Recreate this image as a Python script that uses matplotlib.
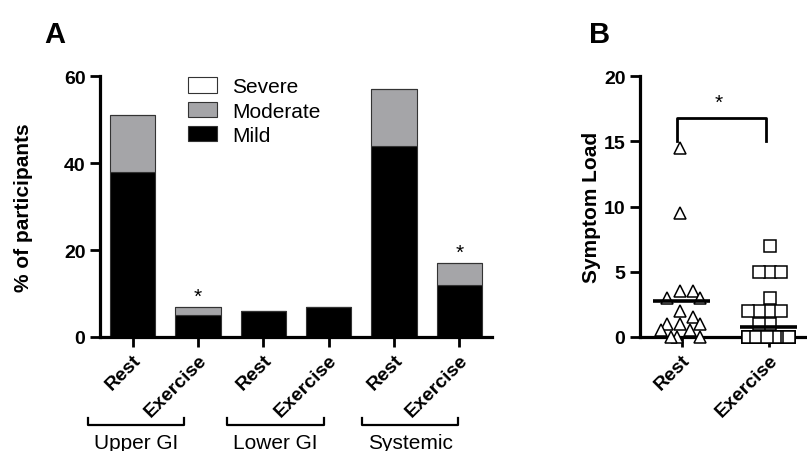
import numpy as np
import matplotlib
matplotlib.use('Agg')
import matplotlib.pyplot as plt
from matplotlib.patches import Patch
import matplotlib.transforms as mtransforms

plt.rcParams['font.family'] = ['Liberation Sans', 'DejaVu Sans']

# Panel A: symptom severity by condition
bar_labels = ['Rest', 'Exercise', 'Rest', 'Exercise', 'Rest', 'Exercise']
mild = [38, 5, 6, 7, 44, 12]
moderate = [13, 2, 0, 0, 13, 5]
severe = [0, 0, 0, 0, 0, 0]
starred = [1, 5]
groups = ['Upper GI', 'Lower GI', 'Systemic']

# Panel B: individual symptom load
rest_load = [14.5, 9.5, 3.5, 3.5, 3, 3, 2, 1.5, 1, 1, 1, 0.5, 0.5, 0, 0, 0]
exercise_load = [7, 5, 5, 5, 3, 2, 2, 2, 2, 1, 1,
                 0, 0, 0, 0, 0, 0, 0, 0, 0, 0, 0, 0, 0, 0, 0, 0, 0,
                 0, 0, 0, 0, 0, 0, 0, 0, 0, 0, 0, 0, 0, 0, 0, 0, 0]

W, H = 807, 452
fig = plt.figure(figsize=(W / 100, H / 100), dpi=100)

def px_axes(left, top, right, bottom):
    return fig.add_axes([left / W, 1 - bottom / H, (right - left) / W, (bottom - top) / H])

def style(ax):
    for s in ['top', 'right']:
        ax.spines[s].set_visible(False)
    for s in ['left', 'bottom']:
        ax.spines[s].set_linewidth(2.3)
    ax.tick_params(width=2.0, length=7, labelsize=14)
    for t in ax.get_yticklabels():
        t.set_fontweight('bold')

# ---------------- panel A ----------------
axA = px_axes(100, 77, 492, 338)
x = np.arange(len(mild))
bw = 0.69
axA.bar(x, mild, bw, color='black', edgecolor='#333333', linewidth=0.8, zorder=2)
axA.bar(x, moderate, bw, bottom=mild, color='#a5a5a8', edgecolor='#333333', linewidth=0.8, zorder=2)
tops = np.array(mild) + np.array(moderate)
axA.bar(x, severe, bw, bottom=tops, color='white', edgecolor='#333333', linewidth=0.8, zorder=2)
for i in starred:
    axA.text(x[i], tops[i] + 2.4, '*', ha='center', va='center', fontsize=15)

axA.set_xlim(-0.5, 5.5)
axA.set_ylim(0, 60)
axA.set_yticks([0, 20, 40, 60])
axA.set_xticks(x)
axA.set_xticklabels(bar_labels, rotation=45, ha='right', va='top',
                    rotation_mode='anchor', fontweight='bold', fontsize=14)
style(axA)
axA.tick_params(axis='x', pad=3)
axA.set_ylabel('% of participants', fontsize=15, fontweight='bold', labelpad=22)

handles = [Patch(facecolor='white', edgecolor='#333333', linewidth=0.8),
           Patch(facecolor='#a5a5a8', edgecolor='#333333', linewidth=0.8),
           Patch(facecolor='black', edgecolor='#333333', linewidth=0.8)]
axA.legend(handles, ['Severe', 'Moderate', 'Mild'], loc='upper left',
           bbox_to_anchor=(0.225, 0.995), frameon=False, fontsize=15,
           handlelength=1.4, handleheight=0.77, handletextpad=0.7,
           labelspacing=0.25, borderpad=0, borderaxespad=0)

# group brackets under the rotated labels
trans = mtransforms.blended_transform_factory(axA.transData, axA.transAxes)
spans = [(-0.69, 0.79), (1.45, 2.93), (3.51, 4.98)]
for (a, b), name in zip(spans, groups):
    axA.plot([a, a, b, b], [-0.31, -0.337, -0.337, -0.31], color='black',
             lw=1.6, transform=trans, clip_on=False)
    axA.text((a + b) / 2, -0.405, name, ha='center', va='center', fontsize=15,
             transform=trans)

fig.text(55 / W, 1 - 35 / H, 'A', fontsize=21, fontweight='bold', ha='center', va='center')

# ---------------- panel B ----------------
axB = px_axes(640, 77, 807, 338)
axB.set_xlim(-0.48, 1.44)
axB.set_ylim(0, 20)
xpx = 87.0   # pixels per x unit
ypx = 13.05  # pixels per y unit

def swarm(values, dx, dy, half):
    # place points at the smallest free offset; when crowded, spread the overlap
    cands = np.arange(-half, half + 0.01, dx / 4)
    cands = sorted(cands, key=lambda c: (abs(c), c))
    placed = []
    offs = []
    for v in values:
        y = v * ypx
        best, best_cost = 0, None
        for c in cands:
            cost = sum(max(0, dx - abs(px - c)) ** 2 for px, py in placed if abs(py - y) < dy)
            if best_cost is None or cost < best_cost - 1e-9:
                best, best_cost = c, cost
            if cost == 0:
                break
        placed.append((best, y))
        offs.append(best / xpx)
    return np.array(offs)

for i, (vals, mk, ms, dx, half) in enumerate([(rest_load, '^', 9, 13, 21),
                                               (exercise_load, 's', 8.5, 11, 21)]):
    offs = swarm(vals, dx, 11, half)
    axB.plot(i + offs, vals, linestyle='none', marker=mk, markersize=ms,
             markerfacecolor='white', markeredgecolor='black', markeredgewidth=1.1,
             clip_on=False, zorder=3)
    m = np.mean(vals)
    axB.plot([i - 0.33, i + 0.33], [m, m], color='black', lw=2.6, zorder=4,
             solid_capstyle='butt')

axB.plot([-0.06, -0.06, 0.97, 0.97], [15, 16.8, 16.8, 15], color='black', lw=2.0)
axB.text(0.43, 18.0, '*', ha='center', va='center', fontsize=15)

axB.set_yticks([0, 5, 10, 15, 20])
axB.set_xticks([0, 1])
axB.set_xticklabels(['Rest', 'Exercise'], rotation=45, ha='right', va='top',
                    rotation_mode='anchor', fontweight='bold', fontsize=14)
style(axB)
axB.tick_params(axis='x', pad=3)
axB.set_ylabel('Symptom Load', fontsize=15, fontweight='bold', labelpad=2)

fig.text(600 / W, 1 - 35 / H, 'B', fontsize=21, fontweight='bold', ha='center', va='center')

fig.savefig('out.png', dpi=100)
